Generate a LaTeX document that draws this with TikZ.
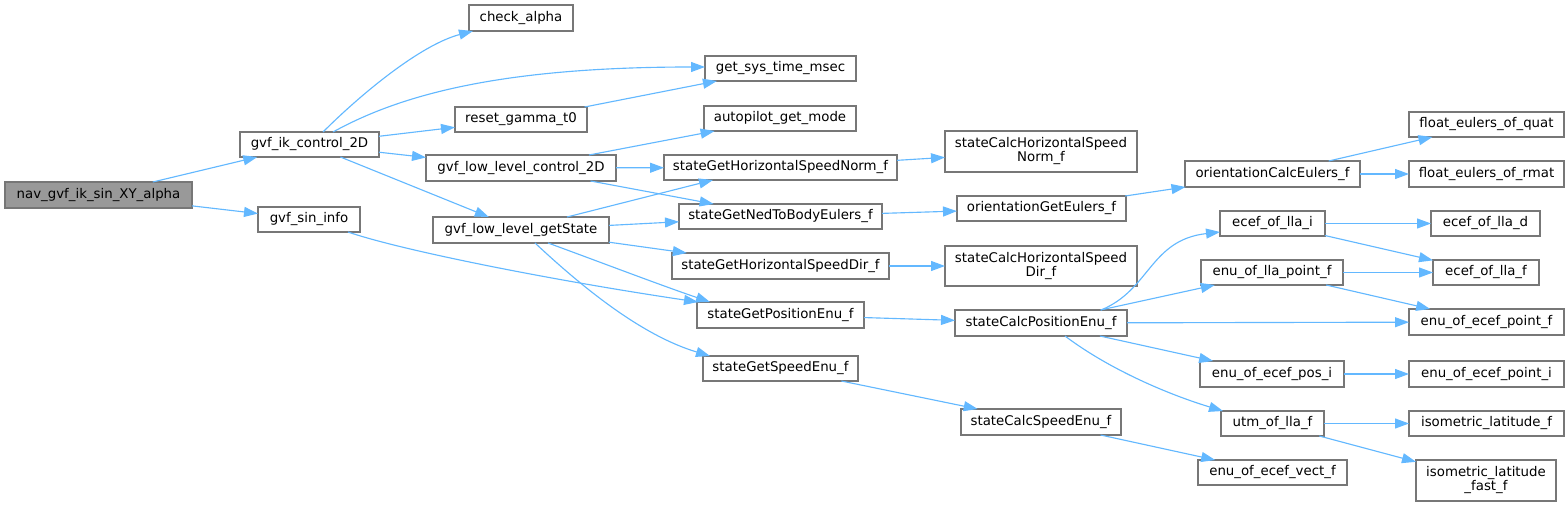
\documentclass[tikz,border=0pt]{standalone}
\usepackage{fontspec}
\setmainfont{DejaVu Sans}
\usetikzlibrary{arrows.meta}
\definecolor{edgec}{HTML}{63B8FF}
\definecolor{bordc}{HTML}{777777}
\definecolor{mainf}{HTML}{999999}
\begin{document}
\begin{tikzpicture}[x=0.75pt,y=-0.75pt,
 fn/.style={draw=bordc, line width=1.05pt, fill=white, inner sep=0pt, outer sep=0pt, align=center, font=\fontsize{10}{10.5}\selectfont},
 mainfn/.style={fill=mainf},
 call/.style={draw=edgec, line width=0.85pt, -{Triangle[length=10.5pt,width=7.5pt]}}]
\useasboundingbox (0,0) rectangle (1567,506);
\newcommand\fbx[7][]{\node[fn,#1,minimum width={(#5-#3)*0.75pt},minimum height={(#6-#4)*0.75pt}] (#2) at ({(#3+#5)/2},{(#4+#6)/2}) {#7};}
\fbx[mainfn]{nav}{5}{182}{192}{208}{nav\_gvf\_ik\_sin\_XY\_alpha}
\fbx{gik}{240}{132}{379}{157}{gvf\_ik\_control\_2D}
\fbx{gsi}{258}{207}{360}{232}{gvf\_sin\_info}
\fbx{ca}{469}{5}{573}{31}{check\_alpha}
\fbx{gstm}{705}{56}{856}{81}{get\_sys\_time\_msec}
\fbx{rg}{455}{107}{587}{132}{reset\_gamma\_t0}
\fbx{agm}{704}{106}{856}{131}{autopilot\_get\_mode}
\fbx{gllc}{426}{155}{616}{181}{gvf\_low\_level\_control\_2D}
\fbx{sghsn}{664}{155}{897}{180}{stateGetHorizontalSpeedNorm\_f}
\fbx{sgntbe}{679}{204}{882}{229}{stateGetNedToBodyEulers\_f}
\fbx{gllgs}{433}{217}{609}{243}{gvf\_low\_level\_getState}
\fbx{sghsd}{672}{253}{889}{279}{stateGetHorizontalSpeedDir\_f}
\fbx{sgpe}{697}{302}{864}{328}{stateGetPositionEnu\_f}
\fbx{sgse}{703}{356}{858}{381}{stateGetSpeedEnu\_f}
\fbx{schsn}{945}{131}{1137}{172}{stateCalcHorizontalSpeed\\Norm\_f}
\fbx{oge}{957}{196}{1126}{221}{orientationGetEulers\_f}
\fbx{oce}{1185}{161}{1360}{187}{orientationCalcEulers\_f}
\fbx{feq}{1409}{112}{1564}{137}{float\_eulers\_of\_quat}
\fbx{fer}{1409}{161}{1564}{187}{float\_eulers\_of\_rmat}
\fbx{eoli}{1220}{211}{1325}{236}{ecef\_of\_lla\_i}
\fbx{eold}{1431}{211}{1540}{236}{ecef\_of\_lla\_d}
\fbx{schsd}{945}{246}{1137}{286}{stateCalcHorizontalSpeed\\Dir\_f}
\fbx{scpe}{955}{310}{1127}{336}{stateCalcPositionEnu\_f}
\fbx{eolp}{1201}{260}{1343}{285}{enu\_of\_lla\_point\_f}
\fbx{eolf}{1433}{260}{1539}{285}{ecef\_of\_lla\_f}
\fbx{eoepf}{1409}{309}{1564}{335}{enu\_of\_ecef\_point\_f}
\fbx{eoepos}{1200}{361}{1344}{387}{enu\_of\_ecef\_pos\_i}
\fbx{eoepi}{1409}{361}{1564}{387}{enu\_of\_ecef\_point\_i}
\fbx{scse}{961}{409}{1121}{435}{stateCalcSpeedEnu\_f}
\fbx{utm}{1221}{411}{1324}{436}{utm\_of\_lla\_f}
\fbx{isl}{1409}{411}{1564}{436}{isometric\_latitude\_f}
\fbx{eoev}{1198}{460}{1347}{485}{enu\_of\_ecef\_vect\_f}
\fbx{islf}{1416}{460}{1556}{501}{isometric\_latitude\\\_fast\_f}
% edges
\draw[call] (nav) -- (gik);
\draw[call] (nav) -- (gsi);
\draw[call] ([shift={(13.5,0)}]gik.north) .. controls (360,95) and (420,45) .. ([shift={(4,0)}]ca.south west);
\draw[call] ([shift={(23.5,0)}]gik.north) .. controls (400,95) and (500,67) .. ([shift={(0,-1.5)}]gstm.west);
\draw[call] (rg) -- (gstm);
\draw[call] (gik) -- (rg);
\draw[call] (gik) -- (gllc);
\draw[call] (gik) -- (gllgs);
\draw[call] (gllc) -- (agm);
\draw[call] (gllc) -- (sghsn);
\draw[call] (gllc) -- (sgntbe);
\draw[call] ([shift={(46,0)}]gllgs.north) -- ([shift={(-67.5,0)}]sghsn.south);
\draw[call] (gllgs) -- (sgntbe);
\draw[call] (gllgs) -- (sghsd);
\draw[call] ([shift={(27,0)}]gllgs.south) .. controls (600,262) and (660,285) .. ([shift={(13,0)}]sgpe.north west);
\draw[call] ([shift={(14,0)}]gllgs.south) .. controls (580,285) and (640,335) .. ([shift={(7,0)}]sgse.north west);
\draw[call] ([shift={(39,0)}]gsi.south) .. controls (400,250) and (550,280) .. ([shift={(1,0)}]sgpe.north west);
\draw[call] (sghsn) -- (schsn);
\draw[call] (sgntbe) -- (oge);
\draw[call] (oge) -- (oce);
\draw[call] (oce) -- (feq);
\draw[call] (oce) -- (fer);
\draw[call] (sghsd) -- (schsd);
\draw[call] (sgpe) -- (scpe);
\draw[call] (sgse) -- (scse);
\draw[call] ([shift={(60,0)}]scpe.north) .. controls (1150,290) and (1150,240) .. ([shift={(0,-4)}]eoli.south west);
\draw[call] (scpe) -- (eolp);
\draw[call] (scpe) -- (eoepf);
\draw[call] (scpe) -- (eoepos);
\draw[call] ([shift={(24,0)}]scpe.south) .. controls (1110,370) and (1170,395) .. ([shift={(2,0)}]utm.north west);
\draw[call] (eoli) -- (eold);
\draw[call] (eoli) -- (eolf);
\draw[call] (eolp) -- (eolf);
\draw[call] (eolp) -- (eoepf);
\draw[call] (eoepos) -- (eoepi);
\draw[call] (utm) -- (isl);
\draw[call] (utm) -- (islf);
\draw[call] (scse) -- (eoev);
\end{tikzpicture}
\end{document}
